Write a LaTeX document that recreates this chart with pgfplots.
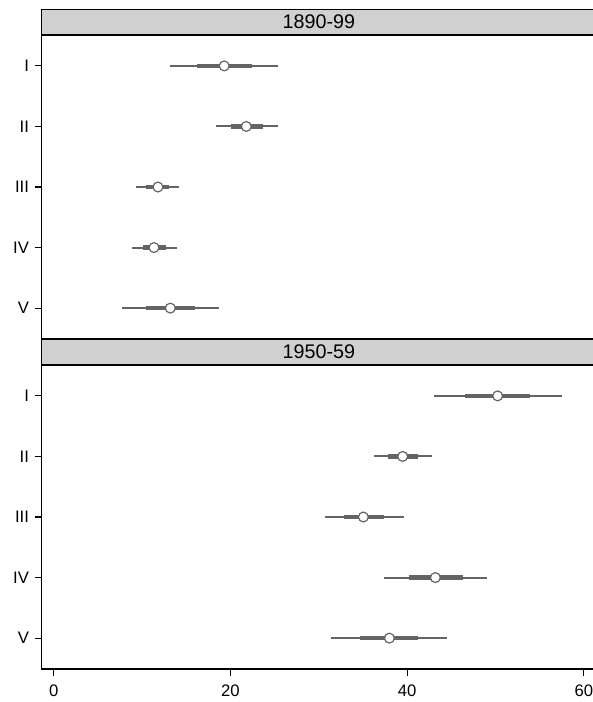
\documentclass[border=0pt]{standalone}
\usepackage{pgfplots}
\pgfplotsset{compat=1.18}
\usepackage{pgfplotstable}
\usepackage{fontspec}
\setmainfont{Liberation Sans}
\definecolor{barc}{RGB}{100,100,100}
\definecolor{stripc}{RGB}{208,208,208}

% y = category (1=I ... 5=V), m = point estimate, lo1/hi1 = outer range, lo2/hi2 = inner range
\pgfplotstableread{
y m     lo1   hi1   lo2   hi2
1 19.3  13.2  25.4  16.2  22.4
2 21.8  18.4  25.4  20.1  23.7
3 11.8  9.35  14.2  10.5  13.0
4 11.35 8.9   14.0  10.1  12.7
5 13.2  7.7   18.7  10.4  16.0
}\dataA
\pgfplotstableread{
y m     lo1   hi1   lo2   hi2
1 50.25 43.05 57.5  46.6  53.9
2 39.5  36.3  42.8  37.85 41.25
3 35.05 30.7  39.6  32.9  37.4
4 43.2  37.4  49.1  40.2  46.3
5 38.0  31.4  44.5  34.7  41.25
}\dataB

\pgfplotsset{
  panel/.style={
    scale only axis, width=419.8pt, height=228pt,
    xmin=-1.36, xmax=62, ymin=0.49, ymax=5.51, y dir=reverse,
    ytick={1,2,3,4,5}, yticklabels={I,II,III,IV,V},
    xtick={0,20,40,60},
    tick align=outside, major tick length=5pt,
    xtick pos=bottom, ytick pos=left,
    axis line style={line width=0.9pt},
    tick style={line width=0.8pt, black},
    /pgf/number format/assume math mode=true,
    tick label style={font=\fontsize{12.5}{14}\selectfont},
    xticklabel style={yshift=-3pt},
    yticklabel style={xshift=-1pt},
    clip=false,
  },
  outer/.style={mark=none, forget plot,
    error bars/.cd, x dir=both, x explicit, error mark=none,
    error bar style={draw=barc, line width=1.5pt}},
  inner/.style={mark=none, forget plot,
    error bars/.cd, x dir=both, x explicit, error mark=none,
    error bar style={draw=barc, line width=3.3pt}},
  est/.style={only marks, mark=*, mark size=3.7pt,
    mark options={fill=white, draw=barc, line width=0.9pt}},
}

\begin{document}
\begin{tikzpicture}
\useasboundingbox (0pt,0pt) rectangle (444pt,-526.5pt);

\begin{axis}[panel, name=A, at={(31.275pt,-254.25pt)}, anchor=south west, xtick=\empty]
\addplot[draw=none, outer] table[x=m, y=y, x error plus expr=\thisrow{hi1}-\thisrow{m}, x error minus expr=\thisrow{m}-\thisrow{lo1}] {\dataA};
\addplot[draw=none, inner] table[x=m, y=y, x error plus expr=\thisrow{hi2}-\thisrow{m}, x error minus expr=\thisrow{m}-\thisrow{lo2}] {\dataA};
\addplot[est] table[x=m, y=y] {\dataA};
\end{axis}
\draw[fill=stripc, line width=0.9pt] (A.north west) rectangle ([yshift=19.3pt]A.north east);
\node[font=\fontsize{14.8}{16}\selectfont, inner sep=0pt] at ([xshift=-2pt,yshift=9.65pt]A.north) {1890-99};

\begin{axis}[panel, name=B, at={(31.275pt,-501.75pt)}, anchor=south west]
\addplot[draw=none, outer] table[x=m, y=y, x error plus expr=\thisrow{hi1}-\thisrow{m}, x error minus expr=\thisrow{m}-\thisrow{lo1}] {\dataB};
\addplot[draw=none, inner] table[x=m, y=y, x error plus expr=\thisrow{hi2}-\thisrow{m}, x error minus expr=\thisrow{m}-\thisrow{lo2}] {\dataB};
\addplot[est] table[x=m, y=y] {\dataB};
\end{axis}
\draw[fill=stripc, line width=0.9pt] (B.north west) rectangle ([yshift=19.5pt]B.north east);
\node[font=\fontsize{14.8}{16}\selectfont, inner sep=0pt] at ([xshift=-2pt,yshift=9.75pt]B.north) {1950-59};
\end{tikzpicture}
\end{document}
